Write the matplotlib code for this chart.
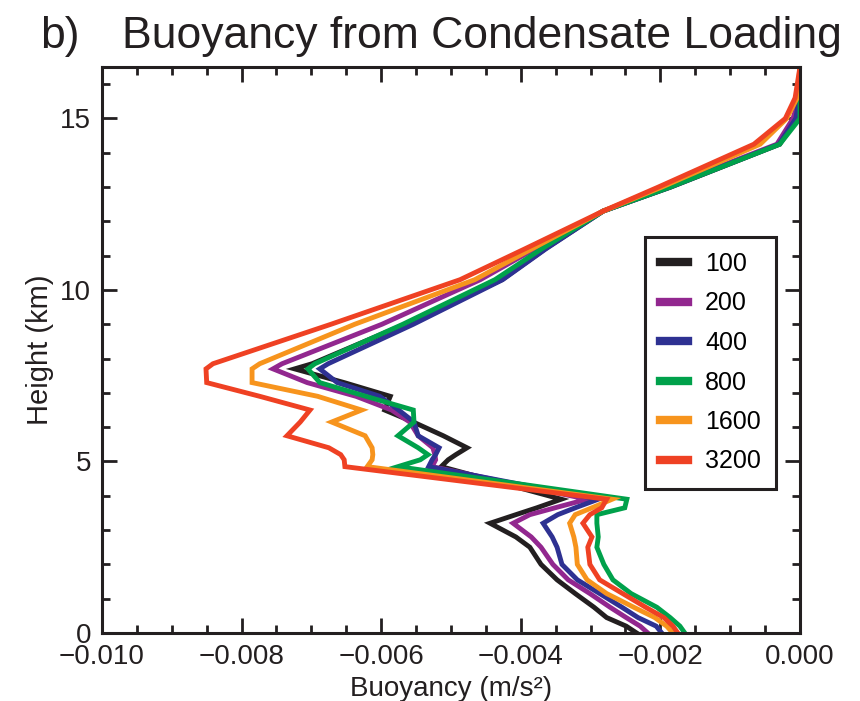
import numpy as np
import matplotlib
matplotlib.use("Agg")
import matplotlib.pyplot as plt
from matplotlib.ticker import MultipleLocator, FuncFormatter

plt.rcParams['font.family'] = ['Liberation Sans', 'DejaVu Sans']

# model levels (km)
height_km = [0.0, 0.2, 0.45, 0.75, 1.15, 1.55, 2.0, 2.5, 2.8, 3.2, 3.45, 3.65, 3.9,
             4.85, 5.05, 5.2, 5.4, 5.75, 6.15, 6.5, 6.9, 7.3, 7.7, 7.85,
             9.0, 10.3, 11.2, 12.3, 13.0, 14.25, 15.0, 15.6, 16.5]

# buoyancy in 1e-3 m/s^2, one profile per run
b_100 = [-2.34, -2.49, -2.77, -2.95, -3.22, -3.48, -3.71, -3.87, -4.07, -4.44, -4.07, -3.77, -3.42,
         -5.14, -5.04, -4.93, -4.77, -5.11, -5.54, -5.95, -5.87, -6.53, -7.24, -6.99,
         -5.66, -4.27, -3.65, -2.82, -1.85, -0.29, -0.04, -0.01, 0.0]
b_200 = [-2.18, -2.29, -2.49, -2.72, -3.01, -3.32, -3.54, -3.71, -3.85, -4.11, -3.87, -3.51, -3.05,
         -5.27, -5.22, -5.23, -5.26, -5.47, -5.59, -5.85, -6.36, -7.06, -7.55, -7.42,
         -5.99, -4.58, -3.80, -2.82, -1.91, -0.33, -0.10, -0.01, 0.0]
b_400 = [-1.98, -2.06, -2.32, -2.55, -2.87, -3.19, -3.41, -3.48, -3.55, -3.68, -3.47, -3.22, -2.89,
         -5.32, -5.27, -5.22, -5.17, -5.47, -5.53, -5.75, -6.02, -6.63, -6.88, -6.76,
         -5.54, -4.26, -3.64, -2.82, -1.86, -0.30, -0.06, -0.01, 0.0]
b_800 = [-1.65, -1.72, -1.86, -2.05, -2.42, -2.68, -2.81, -2.91, -2.89, -2.91, -2.91, -2.51, -2.48,
         -5.76, -5.44, -5.33, -5.47, -5.76, -5.53, -5.54, -6.22, -6.88, -7.05, -6.95,
         -5.69, -4.37, -3.70, -2.82, -1.86, -0.29, 0.0, 0.0, 0.0]
b_1600 = [-1.82, -1.91, -2.08, -2.38, -2.77, -3.05, -3.19, -3.21, -3.24, -3.30, -3.22, -2.98, -2.69,
          -6.20, -6.13, -6.12, -6.13, -6.23, -6.71, -6.28, -6.91, -7.85, -7.85, -7.74,
          -6.38, -4.66, -3.84, -2.82, -1.98, -0.57, -0.19, -0.04, 0.0]
b_3200 = [-1.75, -1.82, -1.95, -2.21, -2.54, -2.87, -3.01, -3.04, -2.98, -3.11, -3.01, -2.84, -2.77,
          -6.52, -6.53, -6.58, -6.75, -7.35, -7.16, -7.02, -7.74, -8.50, -8.51, -8.41,
          -6.72, -4.87, -3.94, -2.82, -2.03, -0.66, -0.21, -0.07, 0.0]

labels = ['100', '200', '400', '800', '1600', '3200']
colors = ['#231f20', '#92278f', '#2e3192', '#00a14b', '#f7941d', '#ef4123']
profiles = [b_100, b_200, b_400, b_800, b_1600, b_3200]

fig = plt.figure(figsize=(8.6, 7.01), dpi=100)
ax = fig.add_axes([0.1186, 0.097, 0.8116, 0.8074])

for prof, lab, col in zip(profiles, labels, colors):
    ax.plot(np.array(prof) * 1e-3, height_km, color=col, lw=3.5, label=lab,
            solid_joinstyle='miter')

ax.set_xlim(-0.010, 0.0)
ax.set_ylim(0, 16.5)
ax.xaxis.set_major_locator(MultipleLocator(0.002))
ax.xaxis.set_minor_locator(MultipleLocator(0.0005))
ax.yaxis.set_major_locator(MultipleLocator(5))
ax.yaxis.set_minor_locator(MultipleLocator(1))
ax.xaxis.set_major_formatter(FuncFormatter(lambda v, p: f'{v:.3f}'.replace('-', '\u2212')))

ax.tick_params(which='both', direction='in', top=True, right=True, width=2.0,
               labelsize=20, colors='#231f20')
ax.tick_params(which='major', length=11, pad=8)
ax.tick_params(axis='x', which='major', pad=8)
ax.tick_params(which='minor', length=6)
for s in ax.spines.values():
    s.set_linewidth(2.2)
    s.set_color('#231f20')

ax.set_xlabel('Buoyancy (m/s\u00b2)', fontsize=20, labelpad=4, color='#231f20')
ax.set_ylabel('Height (km)', fontsize=21, labelpad=4, color='#231f20')

fig.text(40 / 860, 1 - 48 / 701, 'b)', fontsize=32, color='#231f20')
fig.text(122 / 860, 1 - 48 / 701, 'Buoyancy from Condensate Loading', fontsize=32,
         color='#231f20')

leg = ax.legend(loc='upper left', bbox_to_anchor=(645 / 860, 1 - 237 / 701),
                bbox_transform=fig.transFigure, borderaxespad=0, fontsize=18,
                handlelength=1.1, handletextpad=0.7, labelspacing=0.62,
                borderpad=0.6, fancybox=False, framealpha=1)
leg.get_frame().set_edgecolor('#231f20')
leg.get_frame().set_linewidth(2.2)
for h in leg.get_lines():
    h.set_linewidth(6)

fig.savefig('out.png', dpi=100)
